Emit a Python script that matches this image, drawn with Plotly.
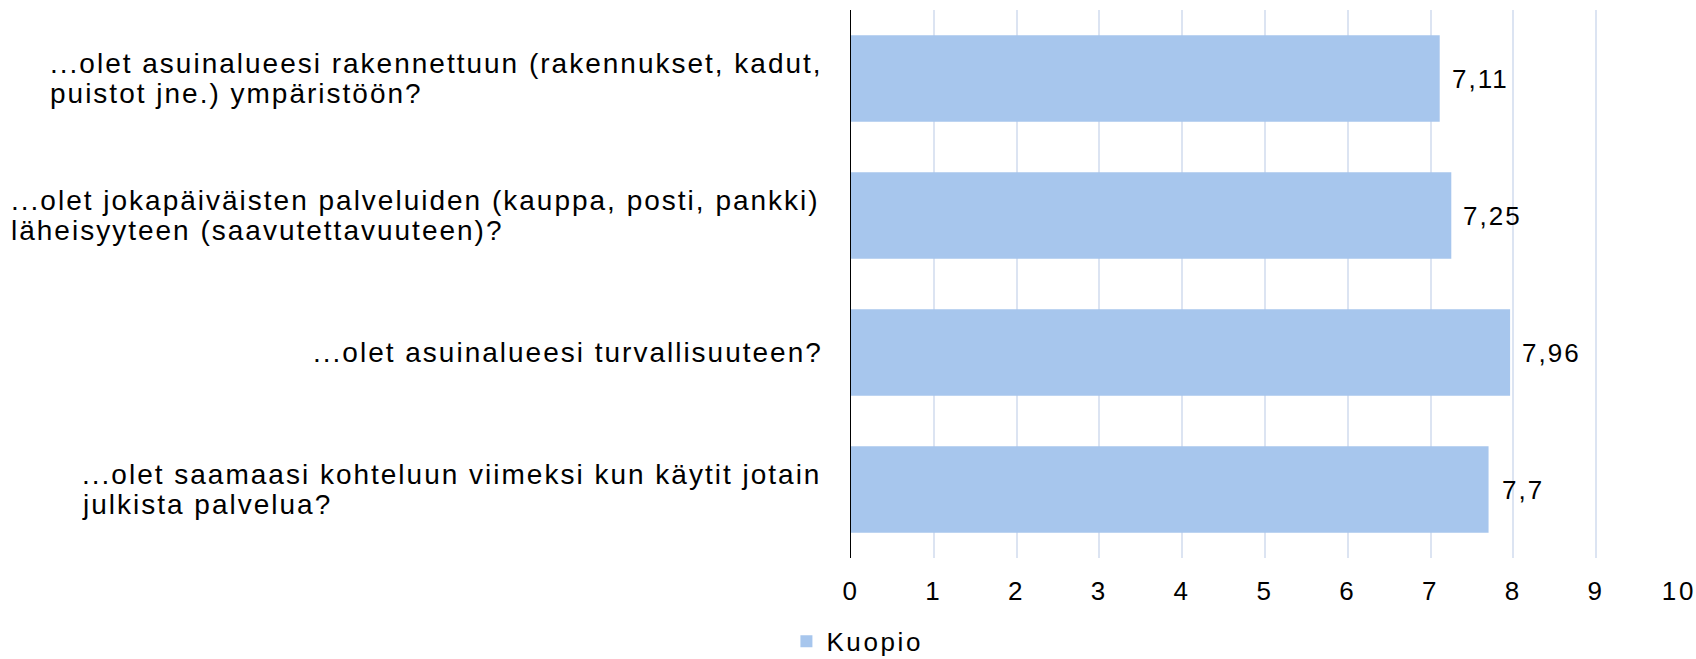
import plotly.graph_objects as go

# ---------------- data ----------------
question_lines = [
    ["...olet asuinalueesi rakennettuun (rakennukset, kadut,", "puistot jne.) ympäristöön?"],
    ["...olet jokapäiväisten palveluiden (kauppa, posti, pankki)", "läheisyyteen (saavutettavuuteen)?"],
    ["...olet asuinalueesi turvallisuuteen?"],
    ["...olet saamaasi kohteluun viimeksi kun käytit jotain", "julkista palvelua?"],
]
values = [7.11, 7.25, 7.96, 7.7]
series_name = "Kuopio"
x_tick_values = [0, 1, 2, 3, 4, 5, 6, 7, 8, 9, 10]

categories = [" ".join(lines) for lines in question_lines]
value_labels = [f"{v:g}".replace(".", ",") for v in values]

# ---------------- layout / style ----------------
W, H = 1696, 659
M_L, M_R, M_T, M_B = 851, 17, 10, 101
FONT = "Liberation Sans, Arial, sans-serif"
TEXT_COLOR = "#000000"
BAR_COLOR = "#A7C6ED"
GRID_COLOR = "#DCE4F2"
label_left_px = [51.7, 13, 315, 83.3]     # left edge of each question block (px)
line_offsets = {1: [0], 2: [15, -15]}     # vertical shift of lines (px, up positive)

fig = go.Figure()
fig.add_trace(go.Bar(
    x=values,
    y=categories,
    orientation="h",
    name=series_name,
    marker=dict(color=BAR_COLOR, line=dict(width=0)),
    showlegend=True,
    hoverinfo="x+y",
))

annotations = []
for cat, lines, left in zip(categories, question_lines, label_left_px):
    offs = line_offsets[len(lines)]
    for line, dy in zip(lines, offs):
        annotations.append(dict(
            x=0, xref="paper", y=cat, yref="y",
            xanchor="left", yanchor="middle", align="left",
            xshift=left - M_L - 3.6, yshift=dy,
            text=line, showarrow=False,
            font=dict(family=FONT, size=28, color=TEXT_COLOR),
        ))
for cat, v, lab in zip(categories, values, value_labels):
    annotations.append(dict(
        x=v, xref="x", y=cat, yref="y",
        xanchor="left", yanchor="middle",
        xshift=14, text=lab, showarrow=False,
        font=dict(family=FONT, size=26, color=TEXT_COLOR),
    ))

fig.update_layout(
    width=W, height=H, autosize=False,
    margin=dict(l=M_L, r=M_R, t=M_T, b=M_B, pad=0, autoexpand=False),
    paper_bgcolor="white", plot_bgcolor="white",
    bargap=0.367,
    font=dict(family=FONT, color=TEXT_COLOR),
    annotations=annotations,
    legend=dict(
        orientation="h", x=-0.078, xanchor="left", y=-0.152, yanchor="middle",
        font=dict(family=FONT, size=26, color=TEXT_COLOR),
        bgcolor="rgba(0,0,0,0)", itemclick=False,
        entrywidth=160, entrywidthmode="pixels",
    ),
    xaxis=dict(
        range=[0, 10], tickmode="array", tickvals=x_tick_values,
        ticktext=[str(t) for t in x_tick_values],
        showgrid=True, gridcolor=GRID_COLOR, gridwidth=1.5,
        zeroline=False, showline=False, ticks="",
        ticklabelstandoff=15,
        tickfont=dict(family=FONT, size=26, color=TEXT_COLOR),
        fixedrange=True,
    ),
    yaxis=dict(
        type="category", categoryorder="array", categoryarray=categories,
        autorange="reversed", showticklabels=False, showgrid=False,
        zeroline=False, showline=True, linecolor="#000000", linewidth=1,
        ticks="", fixedrange=True,
    ),
)

post = """
document.body.style.margin = '0';
document.body.style.overflow = 'hidden';
var s = document.createElement('style');
s.textContent = '.annotation-text{letter-spacing:2px}' +
                '.xtick text{letter-spacing:2.7px}' +
                '.legendtext{letter-spacing:2.6px}';
document.head.appendChild(s);
"""

fig.write_html("out.html", post_script=post, config={"displayModeBar": False})
